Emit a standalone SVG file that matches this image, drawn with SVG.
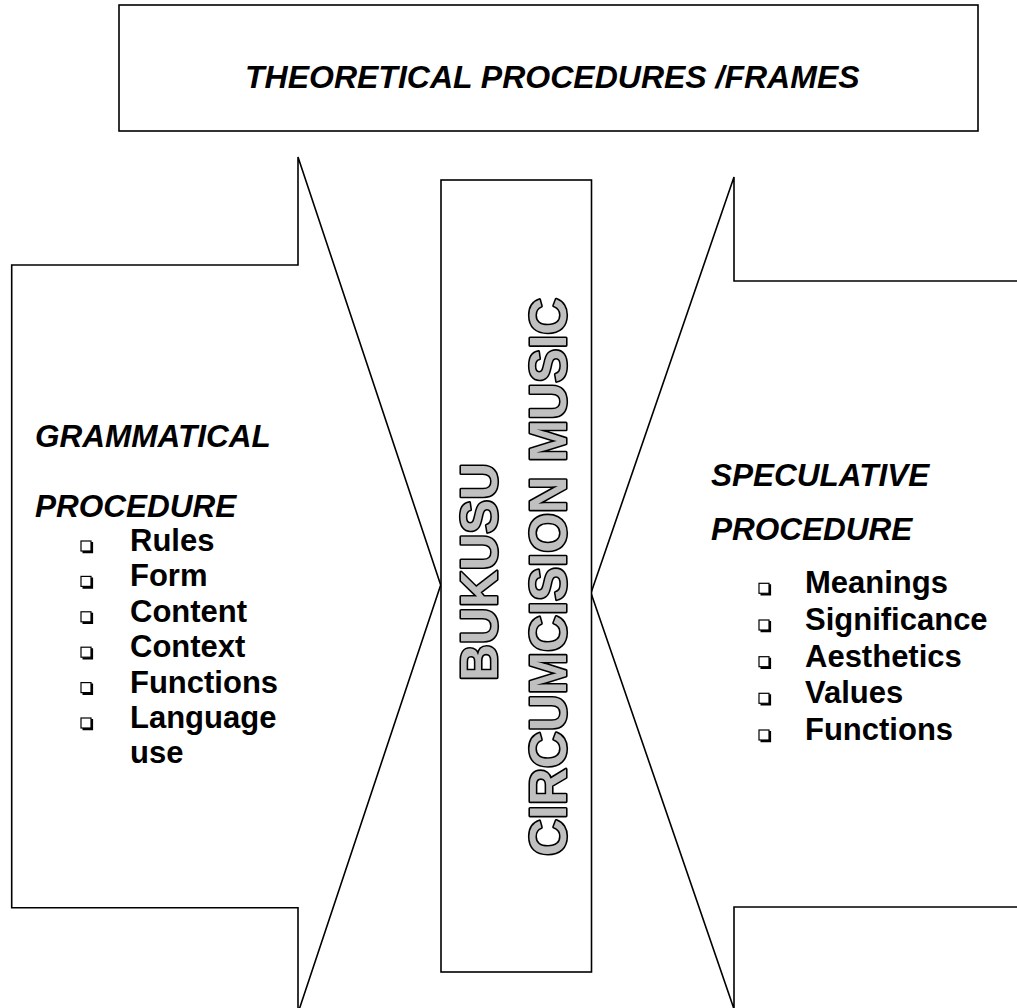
<svg xmlns="http://www.w3.org/2000/svg" width="1017" height="1008" viewBox="0 0 1017 1008">
<style>
.shape{fill:#fff;stroke:#000;stroke-width:1.6;stroke-linejoin:miter}
.title{font-family:"Liberation Sans",Arial,sans-serif;font-weight:bold;font-style:italic;font-size:32px;fill:#000}
.head{font-family:"Liberation Sans",Arial,sans-serif;font-weight:bold;font-style:italic;font-size:31.5px;fill:#000}
.item{font-family:"Liberation Sans",Arial,sans-serif;font-weight:bold;font-size:31px;fill:#000}
.outl{font-family:"Liberation Sans",Arial,sans-serif;font-weight:bold;font-size:51px;fill:#c0c0c0;stroke:#000;stroke-width:3.2;paint-order:stroke;stroke-linejoin:round}
.bx{fill:#fff;stroke:#000;stroke-width:1.2}
.bs{fill:none;stroke:#000;stroke-width:2.2}
</style>
<defs>
<g id="bullet">
<polyline class="bs" points="6,-9 6,1.2 -3.5,1.2"/>
<rect class="bx" x="-5" y="-10" width="10" height="10"/>
</g>
</defs>
<g id="connectors"></g>
<g id="title-box">
<rect class="shape" x="119" y="5" width="859" height="126"/>
<text class="title" x="245" y="88">THEORETICAL PROCEDURES /FRAMES</text>
</g>
<g id="grammatical-procedure">
<polygon class="shape" points="11.7,265 298,265 298,157 440.7,585 298,1013 298,907.7 11.7,907.7"/>
<text class="head" x="35" y="447">GRAMMATICAL</text>
<text class="head" x="35" y="517">PROCEDURE</text>
<use href="#bullet" x="86" y="551"/><text class="item" x="130" y="551">Rules</text>
<use href="#bullet" x="86" y="586.4"/><text class="item" x="130" y="586.4">Form</text>
<use href="#bullet" x="86" y="621.8"/><text class="item" x="130" y="621.8">Content</text>
<use href="#bullet" x="86" y="657.2"/><text class="item" x="130" y="657.2">Context</text>
<use href="#bullet" x="86" y="692.6"/><text class="item" x="130" y="692.6">Functions</text>
<use href="#bullet" x="86" y="728"/><text class="item" x="130" y="728">Language</text>
<text class="item" x="130" y="763.4">use</text>
</g>
<g id="speculative-procedure">
<polygon class="shape" points="1030,281 734,281 734,177 591,593 734,1009 734,907 1030,907"/>
<text class="head" x="711" y="486">SPECULATIVE</text>
<text class="head" x="711" y="540">PROCEDURE</text>
<use href="#bullet" x="764" y="593.3"/><text class="item" x="805" y="593.3">Meanings</text>
<use href="#bullet" x="764" y="630"/><text class="item" x="805" y="630">Significance</text>
<use href="#bullet" x="764" y="666.7"/><text class="item" x="805" y="666.7">Aesthetics</text>
<use href="#bullet" x="764" y="703.3"/><text class="item" x="805" y="703.3">Values</text>
<use href="#bullet" x="764" y="740"/><text class="item" x="805" y="740">Functions</text>
</g>
<g id="bukusu-circumcision-music">
<rect class="shape" x="441" y="180" width="150.5" height="792"/>
<text class="outl" transform="translate(496.5,681) rotate(-90)">BUKUSU</text>
<text class="outl" transform="translate(565.5,856) rotate(-90)">CIRCUMCISION MUSIC</text>
</g>
</svg>
